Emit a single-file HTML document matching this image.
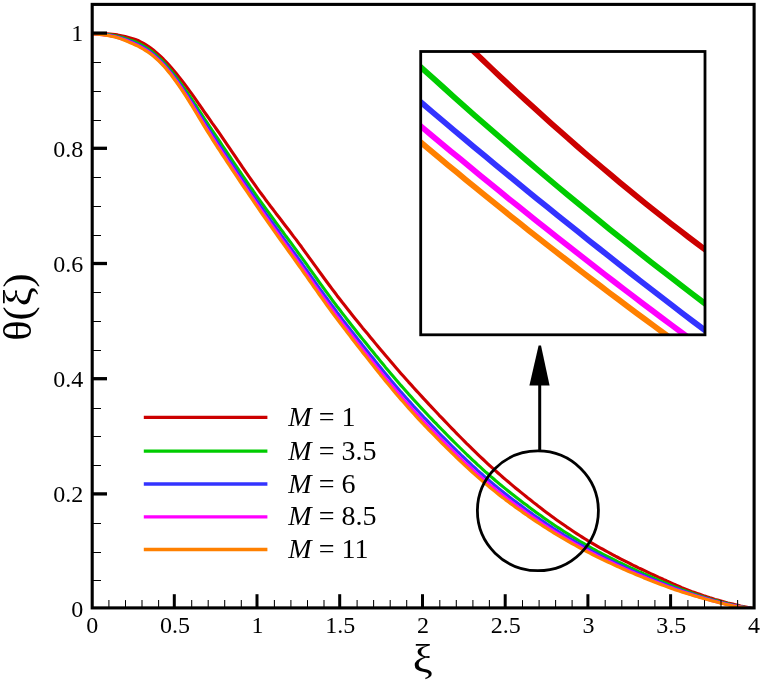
<!DOCTYPE html>
<html><head><meta charset="utf-8"><title>θ(ξ) plot</title>
<style>
html,body{margin:0;padding:0;background:#fff;}
body{width:762px;height:682px;overflow:hidden;}
svg{display:block;}
text{font-family:"Liberation Serif","DejaVu Serif",serif;fill:#000;}
</style></head><body>
<svg width="762" height="682" viewBox="0 0 762 682">
<rect width="762" height="682" fill="#fff"/>
<clipPath id="pc"><rect x="92.2" y="4.4" width="661.9" height="603.5"/></clipPath>
<g clip-path="url(#pc)" fill="none" stroke-width="3.1" stroke-linejoin="round" stroke-linecap="butt">
<path d="M92.0,33.6 L94.6,33.6 L97.1,33.6 L99.7,33.7 L102.2,33.7 L104.8,33.8 L107.3,33.9 L109.9,34.0 L112.4,34.2 L115.0,34.5 L117.5,34.9 L120.1,35.4 L122.6,36.0 L125.2,36.6 L127.7,37.2 L130.3,37.9 L132.9,38.7 L135.4,39.5 L138.0,40.5 L140.5,41.8 L143.1,43.1 L145.6,44.6 L148.2,46.2 L150.7,48.0 L153.3,50.0 L155.8,52.1 L158.4,54.4 L160.9,56.7 L163.5,59.2 L166.0,61.8 L168.6,64.6 L171.2,67.5 L173.7,70.5 L176.3,73.6 L178.8,76.7 L181.4,80.0 L183.9,83.3 L186.5,86.7 L189.0,90.1 L191.6,93.7 L194.1,97.2 L196.7,100.8 L199.2,104.5 L201.8,108.1 L204.3,111.8 L206.9,115.5 L209.5,119.1 L212.0,122.8 L214.6,126.4 L217.1,130.0 L219.7,133.7 L222.2,137.4 L224.8,141.1 L227.3,144.8 L229.9,148.6 L232.4,152.3 L235.0,156.1 L237.5,159.9 L240.1,163.6 L242.6,167.4 L245.2,171.1 L247.8,174.8 L250.3,178.5 L252.9,182.1 L255.4,185.7 L258.0,189.3 L260.5,192.8 L263.1,196.2 L265.6,199.7 L268.2,203.1 L270.7,206.5 L273.3,209.8 L275.8,213.2 L278.4,216.5 L280.9,219.8 L283.5,223.2 L286.0,226.5 L288.6,229.8 L291.2,233.2 L293.7,236.6 L296.3,239.9 L298.8,243.4 L301.4,246.8 L303.9,250.3 L306.5,253.8 L309.0,257.3 L311.6,260.9 L314.1,264.4 L316.7,267.9 L319.2,271.5 L321.8,275.0 L324.3,278.5 L326.9,282.0 L329.5,285.5 L332.0,288.9 L334.6,292.3 L337.1,295.7 L339.7,299.0 L342.2,302.3 L344.8,305.5 L347.3,308.7 L349.9,312.0 L352.4,315.2 L355.0,318.4 L357.5,321.5 L360.1,324.7 L362.6,327.9 L365.2,331.0 L367.8,334.1 L370.3,337.2 L372.9,340.3 L375.4,343.4 L378.0,346.5 L380.5,349.5 L383.1,352.6 L385.6,355.6 L388.2,358.6 L390.7,361.6 L393.3,364.6 L395.8,367.5 L398.4,370.5 L400.9,373.4 L403.5,376.3 L406.1,379.2 L408.6,382.1 L411.2,384.9 L413.7,387.7 L416.3,390.6 L418.8,393.3 L421.4,396.1 L423.9,398.9 L426.5,401.6 L429.0,404.4 L431.6,407.1 L434.1,409.8 L436.7,412.5 L439.2,415.3 L441.8,417.9 L444.4,420.6 L446.9,423.3 L449.5,426.0 L452.0,428.6 L454.6,431.2 L457.1,433.9 L459.7,436.5 L462.2,439.0 L464.8,441.6 L467.3,444.2 L469.9,446.7 L472.4,449.2 L475.0,451.7 L477.5,454.1 L480.1,456.6 L482.7,459.0 L485.2,461.4 L487.8,463.8 L490.3,466.1 L492.9,468.4 L495.4,470.7 L498.0,473.0 L500.5,475.2 L503.1,477.5 L505.6,479.6 L508.2,481.8 L510.7,483.9 L513.3,486.1 L515.8,488.2 L518.4,490.3 L521.0,492.4 L523.5,494.4 L526.1,496.5 L528.6,498.6 L531.2,500.6 L533.7,502.6 L536.3,504.6 L538.8,506.6 L541.4,508.5 L543.9,510.5 L546.5,512.4 L549.0,514.3 L551.6,516.2 L554.1,518.1 L556.7,519.9 L559.3,521.7 L561.8,523.5 L564.4,525.3 L566.9,527.1 L569.5,528.8 L572.0,530.5 L574.6,532.2 L577.1,533.9 L579.7,535.5 L582.2,537.1 L584.8,538.7 L587.3,540.3 L589.9,541.8 L592.4,543.3 L595.0,544.8 L597.5,546.3 L600.1,547.8 L602.7,549.2 L605.2,550.6 L607.8,552.0 L610.3,553.4 L612.9,554.8 L615.4,556.2 L618.0,557.5 L620.5,558.8 L623.1,560.1 L625.6,561.4 L628.2,562.7 L630.7,564.0 L633.3,565.3 L635.8,566.5 L638.4,567.8 L641.0,569.0 L643.5,570.2 L646.1,571.4 L648.6,572.6 L651.2,573.8 L653.7,575.0 L656.3,576.2 L658.8,577.4 L661.4,578.5 L663.9,579.7 L666.5,580.8 L669.0,582.0 L671.6,583.1 L674.1,584.3 L676.7,585.4 L679.3,586.5 L681.8,587.6 L684.4,588.6 L686.9,589.6 L689.5,590.6 L692.0,591.6 L694.6,592.5 L697.1,593.4 L699.7,594.3 L702.2,595.2 L704.8,596.1 L707.3,596.9 L709.9,597.8 L712.4,598.6 L715.0,599.4 L717.6,600.1 L720.1,600.8 L722.7,601.5 L725.2,602.2 L727.8,602.9 L730.3,603.5 L732.9,604.1 L735.4,604.7 L738.0,605.3 L740.5,605.9 L743.1,606.4 L745.6,607.0 L748.2,607.6 L750.7,608.1 L753.3,608.6" stroke="#cc0000"/>
<path d="M92.0,33.8 L94.6,33.8 L97.1,33.9 L99.7,34.1 L102.2,34.2 L104.8,34.4 L107.3,34.6 L109.9,34.9 L112.4,35.2 L115.0,35.7 L117.5,36.3 L120.1,36.9 L122.6,37.6 L125.2,38.4 L127.7,39.2 L130.3,40.1 L132.9,41.0 L135.4,42.0 L138.0,43.2 L140.5,44.4 L143.1,45.8 L145.6,47.3 L148.2,49.0 L150.7,50.8 L153.3,52.8 L155.8,55.0 L158.4,57.3 L160.9,59.7 L163.5,62.2 L166.0,65.0 L168.6,68.0 L171.2,71.0 L173.7,74.2 L176.3,77.4 L178.8,80.8 L181.4,84.3 L183.9,87.8 L186.5,91.5 L189.0,95.2 L191.6,99.0 L194.1,102.9 L196.7,106.7 L199.2,110.7 L201.8,114.6 L204.3,118.5 L206.9,122.4 L209.5,126.3 L212.0,130.2 L214.6,134.0 L217.1,137.7 L219.7,141.5 L222.2,145.3 L224.8,149.1 L227.3,152.9 L229.9,156.7 L232.4,160.5 L235.0,164.3 L237.5,168.1 L240.1,171.9 L242.6,175.6 L245.2,179.4 L247.8,183.1 L250.3,186.9 L252.9,190.5 L255.4,194.2 L258.0,197.8 L260.5,201.4 L263.1,205.0 L265.6,208.5 L268.2,212.0 L270.7,215.5 L273.3,219.0 L275.8,222.5 L278.4,225.9 L280.9,229.4 L283.5,232.8 L286.0,236.3 L288.6,239.7 L291.2,243.2 L293.7,246.6 L296.3,250.1 L298.8,253.6 L301.4,257.1 L303.9,260.6 L306.5,264.2 L309.0,267.8 L311.6,271.4 L314.1,274.9 L316.7,278.5 L319.2,282.1 L321.8,285.7 L324.3,289.2 L326.9,292.7 L329.5,296.2 L332.0,299.7 L334.6,303.1 L337.1,306.5 L339.7,309.8 L342.2,313.1 L344.8,316.4 L347.3,319.7 L349.9,323.0 L352.4,326.2 L355.0,329.5 L357.5,332.7 L360.1,335.9 L362.6,339.1 L365.2,342.3 L367.8,345.5 L370.3,348.7 L372.9,351.8 L375.4,355.0 L378.0,358.1 L380.5,361.2 L383.1,364.3 L385.6,367.4 L388.2,370.4 L390.7,373.4 L393.3,376.5 L395.8,379.4 L398.4,382.4 L400.9,385.4 L403.5,388.3 L406.1,391.2 L408.6,394.1 L411.2,396.9 L413.7,399.7 L416.3,402.5 L418.8,405.3 L421.4,408.1 L423.9,410.8 L426.5,413.5 L429.0,416.2 L431.6,418.9 L434.1,421.6 L436.7,424.2 L439.2,426.9 L441.8,429.5 L444.4,432.1 L446.9,434.7 L449.5,437.3 L452.0,439.9 L454.6,442.5 L457.1,445.0 L459.7,447.5 L462.2,450.0 L464.8,452.5 L467.3,455.0 L469.9,457.4 L472.4,459.8 L475.0,462.2 L477.5,464.6 L480.1,466.9 L482.7,469.3 L485.2,471.6 L487.8,473.8 L490.3,476.1 L492.9,478.3 L495.4,480.5 L498.0,482.6 L500.5,484.8 L503.1,486.9 L505.6,488.9 L508.2,491.0 L510.7,493.0 L513.3,495.0 L515.8,497.0 L518.4,499.0 L521.0,501.0 L523.5,502.9 L526.1,504.8 L528.6,506.8 L531.2,508.7 L533.7,510.5 L536.3,512.4 L538.8,514.3 L541.4,516.1 L543.9,517.9 L546.5,519.7 L549.0,521.5 L551.6,523.2 L554.1,525.0 L556.7,526.7 L559.3,528.4 L561.8,530.0 L564.4,531.7 L566.9,533.3 L569.5,534.9 L572.0,536.5 L574.6,538.1 L577.1,539.6 L579.7,541.2 L582.2,542.7 L584.8,544.2 L587.3,545.6 L589.9,547.1 L592.4,548.5 L595.0,549.9 L597.5,551.3 L600.1,552.6 L602.7,554.0 L605.2,555.3 L607.8,556.6 L610.3,557.9 L612.9,559.2 L615.4,560.5 L618.0,561.8 L620.5,563.0 L623.1,564.2 L625.6,565.4 L628.2,566.7 L630.7,567.8 L633.3,569.0 L635.8,570.2 L638.4,571.4 L641.0,572.5 L643.5,573.7 L646.1,574.8 L648.6,575.9 L651.2,577.0 L653.7,578.1 L656.3,579.2 L658.8,580.3 L661.4,581.4 L663.9,582.4 L666.5,583.5 L669.0,584.5 L671.6,585.6 L674.1,586.6 L676.7,587.6 L679.3,588.6 L681.8,589.6 L684.4,590.5 L686.9,591.4 L689.5,592.3 L692.0,593.2 L694.6,594.1 L697.1,594.9 L699.7,595.7 L702.2,596.6 L704.8,597.4 L707.3,598.2 L709.9,598.9 L712.4,599.7 L715.0,600.4 L717.6,601.1 L720.1,601.8 L722.7,602.5 L725.2,603.1 L727.8,603.7 L730.3,604.3 L732.9,604.9 L735.4,605.4 L738.0,605.9 L740.5,606.4 L743.1,606.9 L745.6,607.4 L748.2,607.9 L750.7,608.3 L753.3,608.7" stroke="#00cc00"/>
<path d="M92.0,33.9 L94.6,34.0 L97.1,34.1 L99.7,34.3 L102.2,34.5 L104.8,34.8 L107.3,35.0 L109.9,35.4 L112.4,35.8 L115.0,36.4 L117.5,37.0 L120.1,37.7 L122.6,38.5 L125.2,39.4 L127.7,40.3 L130.3,41.3 L132.9,42.3 L135.4,43.4 L138.0,44.6 L140.5,45.9 L143.1,47.3 L145.6,48.8 L148.2,50.5 L150.7,52.3 L153.3,54.4 L155.8,56.5 L158.4,58.9 L160.9,61.3 L163.5,63.9 L166.0,66.7 L168.6,69.8 L171.2,72.9 L173.7,76.2 L176.3,79.5 L178.8,83.0 L181.4,86.6 L183.9,90.3 L186.5,94.1 L189.0,98.0 L191.6,101.9 L194.1,105.9 L196.7,110.0 L199.2,114.0 L201.8,118.1 L204.3,122.1 L206.9,126.2 L209.5,130.2 L212.0,134.2 L214.6,138.1 L217.1,141.9 L219.7,145.8 L222.2,149.6 L224.8,153.4 L227.3,157.3 L229.9,161.1 L232.4,164.9 L235.0,168.7 L237.5,172.6 L240.1,176.4 L242.6,180.1 L245.2,183.9 L247.8,187.7 L250.3,191.4 L252.9,195.1 L255.4,198.8 L258.0,202.5 L260.5,206.1 L263.1,209.7 L265.6,213.3 L268.2,216.9 L270.7,220.5 L273.3,224.0 L275.8,227.5 L278.4,231.0 L280.9,234.6 L283.5,238.1 L286.0,241.6 L288.6,245.1 L291.2,248.6 L293.7,252.1 L296.3,255.6 L298.8,259.1 L301.4,262.7 L303.9,266.3 L306.5,269.9 L309.0,273.5 L311.6,277.1 L314.1,280.7 L316.7,284.3 L319.2,287.9 L321.8,291.4 L324.3,295.0 L326.9,298.5 L329.5,302.1 L332.0,305.5 L334.6,309.0 L337.1,312.4 L339.7,315.7 L342.2,319.1 L344.8,322.4 L347.3,325.7 L349.9,329.0 L352.4,332.2 L355.0,335.5 L357.5,338.8 L360.1,342.0 L362.6,345.3 L365.2,348.5 L367.8,351.7 L370.3,354.9 L372.9,358.1 L375.4,361.3 L378.0,364.4 L380.5,367.5 L383.1,370.7 L385.6,373.7 L388.2,376.8 L390.7,379.9 L393.3,382.9 L395.8,385.9 L398.4,388.9 L400.9,391.9 L403.5,394.8 L406.1,397.7 L408.6,400.6 L411.2,403.4 L413.7,406.3 L416.3,409.1 L418.8,411.8 L421.4,414.6 L423.9,417.3 L426.5,419.9 L429.0,422.6 L431.6,425.3 L434.1,427.9 L436.7,430.6 L439.2,433.2 L441.8,435.8 L444.4,438.4 L446.9,440.9 L449.5,443.5 L452.0,446.0 L454.6,448.6 L457.1,451.1 L459.7,453.5 L462.2,456.0 L464.8,458.4 L467.3,460.8 L469.9,463.2 L472.4,465.6 L475.0,467.9 L477.5,470.3 L480.1,472.6 L482.7,474.8 L485.2,477.1 L487.8,479.3 L490.3,481.5 L492.9,483.6 L495.4,485.8 L498.0,487.9 L500.5,489.9 L503.1,492.0 L505.6,494.0 L508.2,496.0 L510.7,497.9 L513.3,499.9 L515.8,501.8 L518.4,503.7 L521.0,505.6 L523.5,507.5 L526.1,509.4 L528.6,511.2 L531.2,513.1 L533.7,514.9 L536.3,516.7 L538.8,518.4 L541.4,520.2 L543.9,521.9 L546.5,523.7 L549.0,525.4 L551.6,527.0 L554.1,528.7 L556.7,530.3 L559.3,532.0 L561.8,533.6 L564.4,535.2 L566.9,536.7 L569.5,538.3 L572.0,539.8 L574.6,541.3 L577.1,542.8 L579.7,544.3 L582.2,545.7 L584.8,547.1 L587.3,548.5 L589.9,549.9 L592.4,551.3 L595.0,552.6 L597.5,553.9 L600.1,555.3 L602.7,556.6 L605.2,557.8 L607.8,559.1 L610.3,560.4 L612.9,561.6 L615.4,562.8 L618.0,564.1 L620.5,565.3 L623.1,566.4 L625.6,567.6 L628.2,568.8 L630.7,569.9 L633.3,571.1 L635.8,572.2 L638.4,573.3 L641.0,574.4 L643.5,575.5 L646.1,576.6 L648.6,577.7 L651.2,578.7 L653.7,579.8 L656.3,580.8 L658.8,581.9 L661.4,582.9 L663.9,583.9 L666.5,584.9 L669.0,585.9 L671.6,586.9 L674.1,587.9 L676.7,588.8 L679.3,589.8 L681.8,590.7 L684.4,591.5 L686.9,592.4 L689.5,593.3 L692.0,594.1 L694.6,594.9 L697.1,595.7 L699.7,596.5 L702.2,597.3 L704.8,598.1 L707.3,598.8 L709.9,599.6 L712.4,600.3 L715.0,601.0 L717.6,601.7 L720.1,602.3 L722.7,603.0 L725.2,603.6 L727.8,604.2 L730.3,604.8 L732.9,605.3 L735.4,605.8 L738.0,606.3 L740.5,606.8 L743.1,607.2 L745.6,607.6 L748.2,608.0 L750.7,608.4 L753.3,608.7" stroke="#3333ff"/>
<path d="M92.0,34.0 L94.6,34.0 L97.1,34.2 L99.7,34.4 L102.2,34.7 L104.8,35.0 L107.3,35.3 L109.9,35.7 L112.4,36.2 L115.0,36.8 L117.5,37.5 L120.1,38.2 L122.6,39.1 L125.2,40.0 L127.7,41.0 L130.3,42.1 L132.9,43.2 L135.4,44.3 L138.0,45.5 L140.5,46.9 L143.1,48.3 L145.6,49.8 L148.2,51.5 L150.7,53.4 L153.3,55.4 L155.8,57.6 L158.4,59.9 L160.9,62.4 L163.5,65.0 L166.0,67.9 L168.6,71.0 L171.2,74.2 L173.7,77.6 L176.3,81.0 L178.8,84.5 L181.4,88.2 L183.9,92.0 L186.5,95.9 L189.0,99.9 L191.6,103.9 L194.1,108.0 L196.7,112.1 L199.2,116.3 L201.8,120.5 L204.3,124.6 L206.9,128.8 L209.5,132.9 L212.0,136.9 L214.6,140.9 L217.1,144.8 L219.7,148.6 L222.2,152.5 L224.8,156.4 L227.3,160.3 L229.9,164.1 L232.4,167.9 L235.0,171.8 L237.5,175.6 L240.1,179.4 L242.6,183.2 L245.2,187.0 L247.8,190.8 L250.3,194.5 L252.9,198.2 L255.4,202.0 L258.0,205.6 L260.5,209.3 L263.1,213.0 L265.6,216.6 L268.2,220.2 L270.7,223.8 L273.3,227.4 L275.8,231.0 L278.4,234.5 L280.9,238.1 L283.5,241.6 L286.0,245.2 L288.6,248.7 L291.2,252.3 L293.7,255.8 L296.3,259.4 L298.8,262.9 L301.4,266.5 L303.9,270.1 L306.5,273.7 L309.0,277.3 L311.6,280.9 L314.1,284.6 L316.7,288.2 L319.2,291.8 L321.8,295.4 L324.3,298.9 L326.9,302.5 L329.5,306.0 L332.0,309.5 L334.6,313.0 L337.1,316.4 L339.7,319.7 L342.2,323.1 L344.8,326.4 L347.3,329.7 L349.9,333.0 L352.4,336.3 L355.0,339.6 L357.5,342.9 L360.1,346.2 L362.6,349.4 L365.2,352.7 L367.8,355.9 L370.3,359.1 L372.9,362.3 L375.4,365.5 L378.0,368.7 L380.5,371.8 L383.1,375.0 L385.6,378.1 L388.2,381.2 L390.7,384.2 L393.3,387.3 L395.8,390.3 L398.4,393.3 L400.9,396.3 L403.5,399.2 L406.1,402.1 L408.6,405.0 L411.2,407.9 L413.7,410.7 L416.3,413.5 L418.8,416.2 L421.4,419.0 L423.9,421.7 L426.5,424.3 L429.0,427.0 L431.6,429.6 L434.1,432.3 L436.7,434.9 L439.2,437.5 L441.8,440.1 L444.4,442.6 L446.9,445.2 L449.5,447.7 L452.0,450.2 L454.6,452.7 L457.1,455.2 L459.7,457.6 L462.2,460.0 L464.8,462.5 L467.3,464.8 L469.9,467.2 L472.4,469.5 L475.0,471.8 L477.5,474.1 L480.1,476.4 L482.7,478.6 L485.2,480.8 L487.8,483.0 L490.3,485.2 L492.9,487.3 L495.4,489.4 L498.0,491.4 L500.5,493.5 L503.1,495.5 L505.6,497.4 L508.2,499.4 L510.7,501.3 L513.3,503.2 L515.8,505.1 L518.4,507.0 L521.0,508.8 L523.5,510.6 L526.1,512.5 L528.6,514.3 L531.2,516.0 L533.7,517.8 L536.3,519.6 L538.8,521.3 L541.4,523.0 L543.9,524.7 L546.5,526.4 L549.0,528.0 L551.6,529.6 L554.1,531.3 L556.7,532.9 L559.3,534.4 L561.8,536.0 L564.4,537.5 L566.9,539.0 L569.5,540.5 L572.0,542.0 L574.6,543.5 L577.1,544.9 L579.7,546.4 L582.2,547.8 L584.8,549.1 L587.3,550.5 L589.9,551.8 L592.4,553.2 L595.0,554.5 L597.5,555.8 L600.1,557.1 L602.7,558.3 L605.2,559.6 L607.8,560.8 L610.3,562.0 L612.9,563.2 L615.4,564.4 L618.0,565.6 L620.5,566.8 L623.1,568.0 L625.6,569.1 L628.2,570.2 L630.7,571.4 L633.3,572.5 L635.8,573.6 L638.4,574.6 L641.0,575.7 L643.5,576.8 L646.1,577.8 L648.6,578.9 L651.2,579.9 L653.7,580.9 L656.3,581.9 L658.8,582.9 L661.4,583.9 L663.9,584.9 L666.5,585.9 L669.0,586.9 L671.6,587.8 L674.1,588.8 L676.7,589.7 L679.3,590.5 L681.8,591.4 L684.4,592.3 L686.9,593.1 L689.5,593.9 L692.0,594.7 L694.6,595.5 L697.1,596.3 L699.7,597.0 L702.2,597.8 L704.8,598.5 L707.3,599.3 L709.9,600.0 L712.4,600.7 L715.0,601.4 L717.6,602.0 L720.1,602.7 L722.7,603.3 L725.2,604.0 L727.8,604.6 L730.3,605.1 L732.9,605.6 L735.4,606.1 L738.0,606.5 L740.5,607.0 L743.1,607.4 L745.6,607.8 L748.2,608.1 L750.7,608.5 L753.3,608.8" stroke="#ff00ff"/>
<path d="M92.0,34.0 L94.6,34.1 L97.1,34.3 L99.7,34.5 L102.2,34.8 L104.8,35.1 L107.3,35.5 L109.9,35.9 L112.4,36.5 L115.0,37.1 L117.5,37.8 L120.1,38.6 L122.6,39.5 L125.2,40.5 L127.7,41.6 L130.3,42.7 L132.9,43.8 L135.4,45.0 L138.0,46.2 L140.5,47.6 L143.1,49.0 L145.6,50.6 L148.2,52.2 L150.7,54.1 L153.3,56.1 L155.8,58.3 L158.4,60.7 L160.9,63.1 L163.5,65.8 L166.0,68.7 L168.6,71.9 L171.2,75.1 L173.7,78.5 L176.3,82.0 L178.8,85.6 L181.4,89.3 L183.9,93.2 L186.5,97.1 L189.0,101.2 L191.6,105.3 L194.1,109.5 L196.7,113.7 L199.2,117.9 L201.8,122.1 L204.3,126.4 L206.9,130.6 L209.5,134.7 L212.0,138.8 L214.6,142.8 L217.1,146.8 L219.7,150.7 L222.2,154.6 L224.8,158.5 L227.3,162.4 L229.9,166.2 L232.4,170.1 L235.0,173.9 L237.5,177.7 L240.1,181.6 L242.6,185.4 L245.2,189.2 L247.8,192.9 L250.3,196.7 L252.9,200.4 L255.4,204.2 L258.0,207.9 L260.5,211.6 L263.1,215.3 L265.6,218.9 L268.2,222.6 L270.7,226.2 L273.3,229.8 L275.8,233.4 L278.4,237.0 L280.9,240.6 L283.5,244.1 L286.0,247.7 L288.6,251.3 L291.2,254.9 L293.7,258.4 L296.3,262.0 L298.8,265.6 L301.4,269.2 L303.9,272.8 L306.5,276.4 L309.0,280.0 L311.6,283.7 L314.1,287.3 L316.7,290.9 L319.2,294.5 L321.8,298.1 L324.3,301.7 L326.9,305.3 L329.5,308.8 L332.0,312.3 L334.6,315.8 L337.1,319.2 L339.7,322.6 L342.2,325.9 L344.8,329.2 L347.3,332.6 L349.9,335.9 L352.4,339.2 L355.0,342.5 L357.5,345.8 L360.1,349.1 L362.6,352.4 L365.2,355.6 L367.8,358.9 L370.3,362.1 L372.9,365.3 L375.4,368.5 L378.0,371.7 L380.5,374.9 L383.1,378.0 L385.6,381.2 L388.2,384.3 L390.7,387.3 L393.3,390.4 L395.8,393.4 L398.4,396.4 L400.9,399.4 L403.5,402.3 L406.1,405.3 L408.6,408.1 L411.2,411.0 L413.7,413.8 L416.3,416.6 L418.8,419.4 L421.4,422.1 L423.9,424.8 L426.5,427.4 L429.0,430.1 L431.6,432.7 L434.1,435.3 L436.7,437.9 L439.2,440.5 L441.8,443.1 L444.4,445.6 L446.9,448.1 L449.5,450.7 L452.0,453.2 L454.6,455.6 L457.1,458.1 L459.7,460.5 L462.2,462.9 L464.8,465.3 L467.3,467.7 L469.9,470.0 L472.4,472.3 L475.0,474.6 L477.5,476.9 L480.1,479.1 L482.7,481.3 L485.2,483.5 L487.8,485.6 L490.3,487.8 L492.9,489.9 L495.4,491.9 L498.0,494.0 L500.5,496.0 L503.1,497.9 L505.6,499.9 L508.2,501.8 L510.7,503.7 L513.3,505.5 L515.8,507.4 L518.4,509.2 L521.0,511.1 L523.5,512.9 L526.1,514.6 L528.6,516.4 L531.2,518.2 L533.7,519.9 L536.3,521.6 L538.8,523.3 L541.4,525.0 L543.9,526.6 L546.5,528.3 L549.0,529.9 L551.6,531.5 L554.1,533.1 L556.7,534.6 L559.3,536.2 L561.8,537.7 L564.4,539.2 L566.9,540.7 L569.5,542.2 L572.0,543.6 L574.6,545.0 L577.1,546.4 L579.7,547.8 L582.2,549.2 L584.8,550.6 L587.3,551.9 L589.9,553.2 L592.4,554.5 L595.0,555.8 L597.5,557.1 L600.1,558.3 L602.7,559.6 L605.2,560.8 L607.8,562.0 L610.3,563.2 L612.9,564.4 L615.4,565.6 L618.0,566.7 L620.5,567.9 L623.1,569.0 L625.6,570.1 L628.2,571.3 L630.7,572.4 L633.3,573.4 L635.8,574.5 L638.4,575.6 L641.0,576.6 L643.5,577.7 L646.1,578.7 L648.6,579.7 L651.2,580.7 L653.7,581.7 L656.3,582.7 L658.8,583.7 L661.4,584.7 L663.9,585.6 L666.5,586.6 L669.0,587.5 L671.6,588.5 L674.1,589.4 L676.7,590.2 L679.3,591.1 L681.8,591.9 L684.4,592.7 L686.9,593.5 L689.5,594.3 L692.0,595.1 L694.6,595.9 L697.1,596.6 L699.7,597.4 L702.2,598.1 L704.8,598.9 L707.3,599.6 L709.9,600.3 L712.4,601.0 L715.0,601.6 L717.6,602.3 L720.1,602.9 L722.7,603.6 L725.2,604.2 L727.8,604.8 L730.3,605.3 L732.9,605.8 L735.4,606.2 L738.0,606.7 L740.5,607.1 L743.1,607.5 L745.6,607.9 L748.2,608.2 L750.7,608.5 L753.3,608.8" stroke="#ff8000"/>
</g>
<g stroke="#000" fill="none">
<line x1="108.9" y1="607.9" x2="108.9" y2="600.1" stroke-width="1.05"/>
<line x1="125.5" y1="607.9" x2="125.5" y2="600.1" stroke-width="1.05"/>
<line x1="142.0" y1="607.9" x2="142.0" y2="600.1" stroke-width="1.05"/>
<line x1="158.6" y1="607.9" x2="158.6" y2="600.1" stroke-width="1.05"/>
<line x1="174.3" y1="607.9" x2="174.3" y2="594.2" stroke-width="3"/>
<line x1="191.7" y1="607.9" x2="191.7" y2="600.1" stroke-width="1.05"/>
<line x1="208.2" y1="607.9" x2="208.2" y2="600.1" stroke-width="1.05"/>
<line x1="224.7" y1="607.9" x2="224.7" y2="600.1" stroke-width="1.05"/>
<line x1="241.3" y1="607.9" x2="241.3" y2="600.1" stroke-width="1.05"/>
<line x1="257.0" y1="607.9" x2="257.0" y2="594.2" stroke-width="3"/>
<line x1="274.4" y1="607.9" x2="274.4" y2="600.1" stroke-width="1.05"/>
<line x1="290.9" y1="607.9" x2="290.9" y2="600.1" stroke-width="1.05"/>
<line x1="307.5" y1="607.9" x2="307.5" y2="600.1" stroke-width="1.05"/>
<line x1="324.0" y1="607.9" x2="324.0" y2="600.1" stroke-width="1.05"/>
<line x1="339.7" y1="607.9" x2="339.7" y2="594.2" stroke-width="3"/>
<line x1="357.1" y1="607.9" x2="357.1" y2="600.1" stroke-width="1.05"/>
<line x1="373.6" y1="607.9" x2="373.6" y2="600.1" stroke-width="1.05"/>
<line x1="390.2" y1="607.9" x2="390.2" y2="600.1" stroke-width="1.05"/>
<line x1="406.7" y1="607.9" x2="406.7" y2="600.1" stroke-width="1.05"/>
<line x1="422.5" y1="607.9" x2="422.5" y2="594.2" stroke-width="3"/>
<line x1="439.8" y1="607.9" x2="439.8" y2="600.1" stroke-width="1.05"/>
<line x1="456.3" y1="607.9" x2="456.3" y2="600.1" stroke-width="1.05"/>
<line x1="472.9" y1="607.9" x2="472.9" y2="600.1" stroke-width="1.05"/>
<line x1="489.4" y1="607.9" x2="489.4" y2="600.1" stroke-width="1.05"/>
<line x1="505.2" y1="607.9" x2="505.2" y2="594.2" stroke-width="3"/>
<line x1="522.5" y1="607.9" x2="522.5" y2="600.1" stroke-width="1.05"/>
<line x1="539.1" y1="607.9" x2="539.1" y2="600.1" stroke-width="1.05"/>
<line x1="555.6" y1="607.9" x2="555.6" y2="600.1" stroke-width="1.05"/>
<line x1="572.1" y1="607.9" x2="572.1" y2="600.1" stroke-width="1.05"/>
<line x1="587.9" y1="607.9" x2="587.9" y2="594.2" stroke-width="3"/>
<line x1="605.2" y1="607.9" x2="605.2" y2="600.1" stroke-width="1.05"/>
<line x1="621.8" y1="607.9" x2="621.8" y2="600.1" stroke-width="1.05"/>
<line x1="638.3" y1="607.9" x2="638.3" y2="600.1" stroke-width="1.05"/>
<line x1="654.9" y1="607.9" x2="654.9" y2="600.1" stroke-width="1.05"/>
<line x1="670.6" y1="607.9" x2="670.6" y2="594.2" stroke-width="3"/>
<line x1="687.9" y1="607.9" x2="687.9" y2="600.1" stroke-width="1.05"/>
<line x1="704.5" y1="607.9" x2="704.5" y2="600.1" stroke-width="1.05"/>
<line x1="721.0" y1="607.9" x2="721.0" y2="600.1" stroke-width="1.05"/>
<line x1="737.6" y1="607.9" x2="737.6" y2="600.1" stroke-width="1.05"/>
<line x1="92.2" y1="580.5" x2="101" y2="580.5" stroke-width="1"/>
<line x1="92.2" y1="552.5" x2="101" y2="552.5" stroke-width="1"/>
<line x1="92.2" y1="523.5" x2="101" y2="523.5" stroke-width="1"/>
<line x1="92.2" y1="493.9" x2="107" y2="493.9" stroke-width="3.3"/>
<line x1="92.2" y1="465.5" x2="101" y2="465.5" stroke-width="1"/>
<line x1="92.2" y1="436.5" x2="101" y2="436.5" stroke-width="1"/>
<line x1="92.2" y1="408.5" x2="101" y2="408.5" stroke-width="1"/>
<line x1="92.2" y1="378.7" x2="107" y2="378.7" stroke-width="3.3"/>
<line x1="92.2" y1="350.5" x2="101" y2="350.5" stroke-width="1"/>
<line x1="92.2" y1="321.5" x2="101" y2="321.5" stroke-width="1"/>
<line x1="92.2" y1="292.5" x2="101" y2="292.5" stroke-width="1"/>
<line x1="92.2" y1="263.5" x2="107" y2="263.5" stroke-width="3.3"/>
<line x1="92.2" y1="235.5" x2="101" y2="235.5" stroke-width="1"/>
<line x1="92.2" y1="206.5" x2="101" y2="206.5" stroke-width="1"/>
<line x1="92.2" y1="177.5" x2="101" y2="177.5" stroke-width="1"/>
<line x1="92.2" y1="148.3" x2="107" y2="148.3" stroke-width="3.3"/>
<line x1="92.2" y1="120.5" x2="101" y2="120.5" stroke-width="1"/>
<line x1="92.2" y1="91.5" x2="101" y2="91.5" stroke-width="1"/>
<line x1="92.2" y1="62.5" x2="101" y2="62.5" stroke-width="1"/>
<line x1="92.2" y1="33.1" x2="107" y2="33.1" stroke-width="3.3"/>
</g>
<rect x="92.2" y="4.4" width="661.9" height="603.5" fill="none" stroke="#000" stroke-width="3.1"/>
<clipPath id="ic"><rect x="420.7" y="51.5" width="284.3" height="283.3"/></clipPath>
<g clip-path="url(#ic)" fill="none" stroke-width="5.8">
<path d="M465.9,43.9 L474.5,52.2 L483.1,60.4 L491.6,68.5 L500.1,76.6 L508.7,84.6 L517.2,92.5 L525.8,100.4 L534.4,108.2 L542.9,115.9 L551.4,123.6 L560.0,131.2 L568.5,138.7 L577.1,146.2 L585.6,153.6 L594.2,160.9 L602.8,168.1 L611.3,175.3 L619.8,182.4 L628.4,189.5 L636.9,196.5 L645.5,203.4 L654.0,210.2 L662.6,217.0 L671.1,223.7 L679.7,230.3 L688.2,236.9 L696.8,243.4 L705.3,249.8 L713.9,256.2" stroke="#cc0000"/>
<path d="M412.3,59.3 L422.7,68.8 L433.1,78.2 L443.5,87.5 L453.8,96.8 L464.2,106.1 L474.6,115.3 L485.0,124.4 L495.4,133.4 L505.8,142.4 L516.2,151.4 L526.5,160.3 L536.9,169.1 L547.3,177.9 L557.7,186.6 L568.1,195.2 L578.5,203.8 L588.9,212.3 L599.3,220.8 L609.6,229.2 L620.0,237.5 L630.4,245.8 L640.8,254.0 L651.2,262.2 L661.6,270.3 L672.0,278.3 L682.3,286.3 L692.7,294.2 L703.1,302.1 L713.5,309.9" stroke="#00cc00"/>
<path d="M412.3,95.0 L422.7,103.8 L433.1,112.6 L443.5,121.4 L453.8,130.1 L464.2,138.8 L474.6,147.5 L485.0,156.1 L495.4,164.7 L505.8,173.2 L516.2,181.8 L526.5,190.2 L536.9,198.7 L547.3,207.1 L557.7,215.5 L568.1,223.8 L578.5,232.1 L588.9,240.4 L599.3,248.6 L609.6,256.8 L620.0,265.0 L630.4,273.1 L640.8,281.2 L651.2,289.2 L661.6,297.2 L672.0,305.2 L682.3,313.2 L692.7,321.1 L703.1,328.9 L713.5,336.8" stroke="#3333ff"/>
<path d="M412.3,119.0 L421.9,127.1 L431.5,135.2 L441.1,143.2 L450.7,151.2 L460.4,159.1 L470.0,167.0 L479.6,174.9 L489.2,182.8 L498.8,190.6 L508.4,198.4 L518.0,206.1 L527.6,213.8 L537.2,221.5 L546.8,229.1 L556.5,236.7 L566.1,244.3 L575.7,251.8 L585.3,259.3 L594.9,266.8 L604.5,274.2 L614.1,281.6 L623.7,289.0 L633.3,296.3 L642.9,303.6 L652.6,310.8 L662.2,318.1 L671.8,325.3 L681.4,332.4 L691.0,339.5" stroke="#ff00ff"/>
<path d="M412.3,135.3 L421.3,142.8 L430.2,150.3 L439.2,157.8 L448.1,165.2 L457.1,172.6 L466.0,180.0 L475.0,187.3 L483.9,194.5 L492.9,201.8 L501.9,209.0 L510.8,216.2 L519.8,223.3 L528.7,230.4 L537.7,237.5 L546.6,244.5 L555.6,251.5 L564.5,258.4 L573.5,265.4 L582.4,272.2 L591.4,279.1 L600.4,285.9 L609.3,292.7 L618.3,299.4 L627.2,306.1 L636.2,312.8 L645.1,319.4 L654.1,326.0 L663.0,332.6 L672.0,339.1" stroke="#ff8000"/>
</g>
<rect x="420.7" y="51.5" width="284.3" height="283.3" fill="none" stroke="#000" stroke-width="2.8"/>
<ellipse cx="537.9" cy="510.8" rx="60.5" ry="59.9" fill="none" stroke="#000" stroke-width="2.8"/>
<line x1="539.7" y1="450.5" x2="539.7" y2="384" stroke="#000" stroke-width="3"/>
<polygon points="538.6,345.6 541,345.6 549.6,385.4 529.4,385.4" fill="#000"/>
<g font-size="24px">
<text x="92.2" y="633" text-anchor="middle">0</text>
<text x="174.9" y="633" text-anchor="middle">0.5</text>
<text x="257.6" y="633" text-anchor="middle">1</text>
<text x="340.3" y="633" text-anchor="middle">1.5</text>
<text x="423.1" y="633" text-anchor="middle">2</text>
<text x="505.8" y="633" text-anchor="middle">2.5</text>
<text x="588.5" y="633" text-anchor="middle">3</text>
<text x="671.2" y="633" text-anchor="middle">3.5</text>
<text x="753.9" y="633" text-anchor="middle">4</text>
<text x="83.2" y="617.3" text-anchor="end">0</text>
<text x="83.2" y="502.1" text-anchor="end">0.2</text>
<text x="83.2" y="386.9" text-anchor="end">0.4</text>
<text x="83.2" y="271.7" text-anchor="end">0.6</text>
<text x="83.2" y="156.5" text-anchor="end">0.8</text>
<text x="83.2" y="41.3" text-anchor="end">1</text>
</g>
<g font-size="28px">
<line x1="143.8" y1="417.4" x2="267.4" y2="417.4" stroke="#cc0000" stroke-width="3.4"/>
<text x="288.3" y="425.9"><tspan font-style="italic">M</tspan> = 1</text>
<line x1="143.8" y1="451.1" x2="267.4" y2="451.1" stroke="#00cc00" stroke-width="3.4"/>
<text x="288.3" y="459.6"><tspan font-style="italic">M</tspan> = 3.5</text>
<line x1="143.8" y1="484.0" x2="267.4" y2="484.0" stroke="#3333ff" stroke-width="3.4"/>
<text x="288.3" y="492.5"><tspan font-style="italic">M</tspan> = 6</text>
<line x1="143.8" y1="516.9" x2="267.4" y2="516.9" stroke="#ff00ff" stroke-width="3.4"/>
<text x="288.3" y="525.4"><tspan font-style="italic">M</tspan> = 8.5</text>
<line x1="143.8" y1="549.5" x2="267.4" y2="549.5" stroke="#ff8000" stroke-width="3.4"/>
<text x="288.3" y="558.0"><tspan font-style="italic">M</tspan> = 11</text>
</g>
<text transform="translate(422.8,672) scale(1.12,1)" text-anchor="middle" font-size="40px">ξ</text>
<text transform="translate(31,307) rotate(-90) scale(1.06,1)" text-anchor="middle" font-size="40px">θ(ξ)</text>
</svg>
</body></html>
